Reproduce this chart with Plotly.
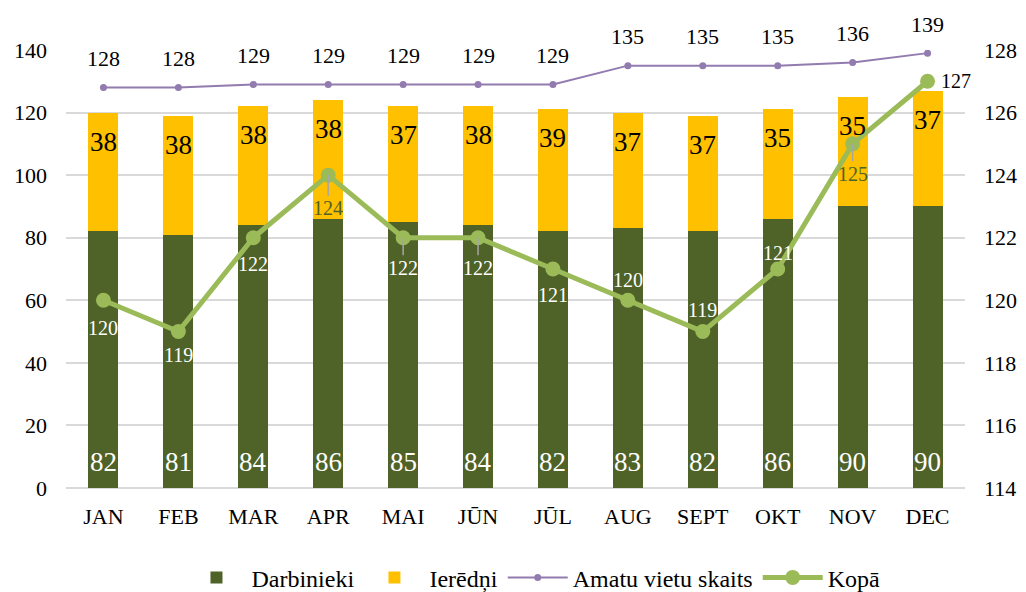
import plotly.graph_objects as go

months = ["JAN", "FEB", "MAR", "APR", "MAI", "JŪN", "JŪL", "AUG", "SEPT", "OKT", "NOV", "DEC"]
darbinieki = [82, 81, 84, 86, 85, 84, 82, 83, 82, 86, 90, 90]
ieredni = [38, 38, 38, 38, 37, 38, 39, 37, 37, 35, 35, 37]
amatu_vietas = [128, 128, 129, 129, 129, 129, 129, 135, 135, 135, 136, 139]
kopa = [120, 119, 122, 124, 122, 122, 121, 120, 119, 121, 125, 127]

# label placement for "Kopā" (pixel offsets of the label centre from the point)
kopa_dy = [28, 23, 26, 33, 30, 30, 26, -20, -22, -16, 30, 0]
kopa_dx = [0, 0, 0, 0, 0, 0, 0, 0, 0, 0, 0, 28]
kopa_leader = [False, False, False, True, True, True, False, False, False, False, True, False]
kopa_col = ["white", "white", "white", "#4F6228", "white", "white", "white", "white",
            "white", "white", "#4F6228", "black"]

FONT = "Liberation Serif, Times New Roman, serif"
C_DARB = "#4F6228"
C_IER = "#FFC000"
C_AMATU = "#8064A2"
C_KOPA = "#9BBB59"

fig = go.Figure()
fig.add_trace(go.Bar(x=months, y=darbinieki, name="Darbinieki", marker_color=C_DARB,
                     marker_line_width=0, width=0.4))
fig.add_trace(go.Bar(x=months, y=ieredni, name="Ierēdņi", marker_color=C_IER,
                     marker_line_width=0, width=0.4))
fig.add_trace(go.Scatter(
    x=months, y=amatu_vietas, name="Amatu vietu skaits", mode="lines+markers",
    line=dict(color=C_AMATU, width=2), marker=dict(size=7, color=C_AMATU), opacity=0.85,
))
fig.add_trace(go.Scatter(
    x=months, y=kopa, name="Kopā", mode="lines+markers", yaxis="y2",
    line=dict(color=C_KOPA, width=5), marker=dict(size=15, color=C_KOPA),
))

ann = []
for m, d, i in zip(months, darbinieki, ieredni):
    ann.append(dict(x=m, y=0, xref="x", yref="y", text=str(d), showarrow=False,
                    yshift=26, font=dict(family=FONT, size=27, color="white")))
    ann.append(dict(x=m, y=d + i, xref="x", yref="y", text=str(i), showarrow=False,
                    yshift=-29, font=dict(family=FONT, size=27, color="black")))
for m, a in zip(months, amatu_vietas):
    ann.append(dict(x=m, y=a, xref="x", yref="y", text=str(a), showarrow=False,
                    yshift=29, font=dict(family=FONT, size=22, color="black")))
for m, k, dy, dx, lead, col in zip(months, kopa, kopa_dy, kopa_dx, kopa_leader, kopa_col):
    if lead:
        ann.append(dict(x=m, y=k, xref="x", yref="y2", text=str(k), showarrow=True,
                        arrowhead=0, arrowwidth=1.5, arrowcolor="#A6A6A6", ax=0, ay=dy,
                        standoff=0, font=dict(family=FONT, size=20, color=col)))
    else:
        ann.append(dict(x=m, y=k, xref="x", yref="y2", text=str(k), showarrow=False,
                        yshift=-dy, xshift=dx, font=dict(family=FONT, size=20, color=col)))

fig.update_layout(
    width=1026, height=592,
    barmode="stack",
    paper_bgcolor="white", plot_bgcolor="white",
    margin=dict(l=58, r=69, t=42, b=112, autoexpand=False),
    font=dict(family=FONT, size=22, color="black"),
    annotations=ann,
    xaxis=dict(range=[-0.5, 11.5], tickfont=dict(size=22, family=FONT), showgrid=False,
               ticks="", showline=False, automargin=False, ticklabelstandoff=13),
    yaxis=dict(range=[0, 140], dtick=20, showgrid=True, gridcolor="#D9D9D9", gridwidth=1.5,
               zeroline=True, zerolinecolor="#D9D9D9", zerolinewidth=1.5,
               tickfont=dict(size=22, family=FONT), ticks="", showline=False,
               automargin=False, ticklabelstandoff=18),
    yaxis2=dict(range=[114, 128], dtick=2, overlaying="y", side="right", showgrid=False,
                zeroline=False, tickfont=dict(size=22, family=FONT), ticks="", showline=False,
                automargin=False, ticklabelstandoff=18),
    legend=dict(orientation="h", x=0.52, xanchor="center", y=-0.205, yanchor="middle",
                font=dict(size=24, family=FONT), traceorder="normal", itemwidth=60),
    showlegend=True,
)

fig.write_html("out.html")
